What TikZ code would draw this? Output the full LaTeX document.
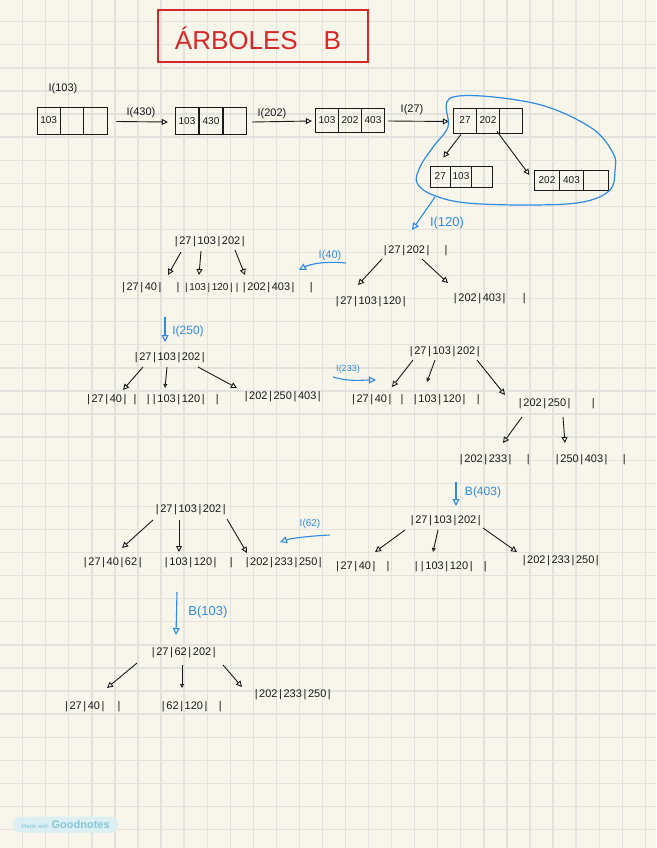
\documentclass[tikz,border=0pt]{standalone}
\usepackage{fontspec}
\setmainfont{Liberation Sans}
\usetikzlibrary{arrows.meta,calc}
\definecolor{paper}{HTML}{F8F6EA}
\definecolor{gridc}{HTML}{E3E2DC}
\definecolor{ink}{HTML}{1A1A1A}
\definecolor{hblue}{HTML}{2F8AE6}
\definecolor{hred}{HTML}{D62828}
\definecolor{pill}{HTML}{DCEFF2}
\definecolor{pilltxt}{HTML}{86C6D8}
\newcommand\vb{\hspace{1.6pt}|\hspace{1.6pt}}
\tikzset{
  keys/.style={font=\fontsize{11}{13}\selectfont, text=ink, inner sep=1pt},
  cell/.style={draw=ink, line width=0.9pt, minimum width=23.3pt, minimum height=27pt,
    inner sep=0pt, font=\fontsize{10}{11}\selectfont, text=ink},
  lbl/.style={font=\fontsize{11}{13}\selectfont, text=ink, inner sep=1pt},
  blbl/.style={font=\fontsize{12}{14}\selectfont, text=hblue, inner sep=1pt},
  arr/.style={draw=ink, line width=0.9pt, -{Triangle[open,length=6pt,width=6pt]}},
  arrs/.style={draw=ink, line width=0.9pt, -{Triangle[open,length=4pt,width=4pt]}},
  barr/.style={draw=hblue, line width=1.1pt, -{Triangle[open,length=7pt,width=7pt]}},
}
\begin{document}
\begin{tikzpicture}[x=1pt,y=-1pt]
\useasboundingbox (0,0) rectangle (656,848);
\fill[paper] (0,0) rectangle (656,848);
\foreach \i in {0,...,27} \draw[gridc, line width=1.3pt] ({22.7+23.06*\i},0) -- ++(0,848);
\foreach \j in {0,...,35} \draw[gridc, line width=1.3pt] (0,{21.7+23.08*\j}) -- ++(656,0);

% title
\node[draw=hred, line width=1.2pt, minimum width=210pt, minimum height=52pt] (titlebox) at (263,36) {};
\node[text=hred, font=\fontsize{26}{28}\selectfont] (title) at (258,38) {ÁRBOLES\hspace{26pt}B};

% row 1 arrays
\node[lbl] (l103) at (63,89) {I(103)};
\node[cell] (b1a) at (48.7,120.5) {103};
\node[cell] (b1b) at (72,120.5) {};
\node[cell] (b1c) at (95.3,120.5) {};

\node[cell] (b2a) at (187,121) {103};
\node[cell] (b2b) at (211,121) {430};
\node[cell] (b2c) at (235,121) {};

\node[cell, minimum height=24pt] (b3a) at (327,120) {103};
\node[cell, minimum height=24pt] (b3b) at (350,120) {202};
\node[cell, minimum height=24pt] (b3c) at (373,120) {403};

\node[cell, minimum height=25pt] (b4a) at (465,120.5) {27};
\node[cell, minimum height=25pt] (b4b) at (488,120.5) {202};
\node[cell, minimum height=25pt] (b4c) at (511,120.5) {};

\node[cell, minimum width=20.7pt, minimum height=21pt] (b5a) at (440.3,176.5) {27};
\node[cell, minimum width=20.7pt, minimum height=21pt] (b5b) at (461,176.5) {103};
\node[cell, minimum width=20.7pt, minimum height=21pt] (b5c) at (481.7,176.5) {};

\node[cell, minimum width=24.3pt, minimum height=20pt] (b6a) at (547,180) {202};
\node[cell, minimum width=24.3pt, minimum height=20pt] (b6b) at (571.5,180) {403};
\node[cell, minimum width=24.3pt, minimum height=20pt] (b6c) at (596,180) {};

\node[lbl] (l430) at (141,113) {I(430)};
\node[lbl] (l202) at (272,114) {I(202)};
\node[lbl] (l27) at (412,110) {I(27)};
\draw[arr] ($(b1c.east)+(9,1)$) -- ($(b2a.west)+(-7,1)$);
\draw[arr] ($(b2c.east)+(5,1)$) -- ($(b3a.west)+(-3,1)$);
\draw[arr] ($(b3c.east)+(3,1)$) -- ($(b4a.west)+(-4,1)$);
\draw[arr] ($(b4a.south)+(-4,1)$) -- ($(b5a.north)+(3,-8)$);
\draw[arr] ($(b4b.south)+(9,-2)$) -- ($(b6a.west)+(-5,-5)$);

% blue lasso
\draw[hblue, line width=1.2pt] plot[smooth cycle, tension=0.6] coordinates {(453,97) (533,103) (590,127) (613,153) (615,170) (610,190) (583,202) (533,205) (467,203) (433,195) (417,183) (420,167) (433,147) (448,127)};
\coordinate (lassoB) at (435,197);

% row 2 right tree
\node[blbl, font=\fontsize{13}{15}\selectfont] (l120) at (447,223) {I(120)};
\node[keys] (r2) at (415,251) {\vb27\vb202\vb\hspace{12pt}\vb};
\node[keys] (c2a) at (370,302) {\vb27\vb103\vb120\vb};
\node[keys] (c2b) at (489,299) {\vb202\vb403\vb\hspace{14pt}\vb};
\draw[barr] (lassoB) -- ($(r2)+(-3,-21)$);
\draw[arr] ($(r2)+(-33,8)$) -- ($(c2a)+(-12,-17)$);
\draw[arr] ($(r2)+(7,8)$) -- ($(c2b)+(-41,-16)$);

% row 2 left tree
\node[keys] (r3) at (209,242) {\vb27\vb103\vb202\vb};
\node[keys] (c3a) at (150,288) {\vb27\vb40\vb\hspace{12pt}\vb};
\node[keys, font=\fontsize{10}{12}\selectfont] (c3b) at (211,288) {\vb103\vb120\vb\vb};
\node[keys] (c3c) at (277,288) {\vb202\vb403\vb\hspace{12pt}\vb};
\draw[arr] ($(r3)+(-28,10)$) -- ($(c3a)+(18,-13)$);
\draw[arr] ($(r3)+(-8,9)$) -- ($(c3b)+(-12,-13)$);
\draw[arr] ($(r3)+(26,8)$) -- ($(c3c)+(-32,-13)$);
\node[blbl, font=\fontsize{11}{13}\selectfont] (l40) at (330,256) {I(40)};
\draw[barr] ($(l40)+(16,7)$) .. controls (325,261) and (310,264) .. ($(c3c)+(22,-18)$);

% row 3 left tree
\node[blbl] (l250) at (188,331) {I(250)};
\node[keys] (r4) at (169,358) {\vb27\vb103\vb202\vb};
\node[keys] (c4a) at (111,400) {\vb27\vb40\vb\hspace{4pt}\vb};
\node[keys] (c4b) at (182,400) {\vb\vb103\vb120\vb\hspace{8pt}\vb};
\node[keys] (c4c) at (282,397) {\vb202\vb250\vb403\vb};
\draw[barr] ($(l250)+(-23,-14)$) -- ($(r4)+(-4,-16)$);
\draw[arr] ($(r4)+(-26,9)$) -- ($(c4a)+(12,-10)$);
\draw[arrs] ($(r4)+(-2,9)$) -- ($(c4b)+(-17,-12)$);
\draw[arr] ($(r4)+(29,9)$) -- ($(c4c)+(-45,-9)$);

% row 3 right tree
\node[blbl, font=\fontsize{9}{11}\selectfont] (l233) at (348,369) {I(233)};
\node[keys] (r5) at (444,352) {\vb27\vb103\vb202\vb};
\node[keys] (c5a) at (377,400) {\vb27\vb40\vb\hspace{6pt}\vb};
\node[keys] (c5b) at (446,400) {\vb103\vb120\vb\hspace{8pt}\vb};
\node[keys] (c5c) at (556,404) {\vb202\vb250\vb\hspace{18pt}\vb};
\node[keys] (g5a) at (494,460) {\vb202\vb233\vb\hspace{12pt}\vb};
\node[keys] (g5b) at (590,460) {\vb250\vb403\vb\hspace{12pt}\vb};
\draw[barr] ($(l233)+(-15,8)$) .. controls (350,382) and (362,380) .. ($(c5a)+(-1,-20)$);
\draw[arr] ($(r5)+(-31,8)$) -- ($(c5a)+(15,-13)$);
\draw[arrs] ($(r5)+(-9,8)$) -- ($(c5b)+(-19,-18)$);
\draw[arr] ($(r5)+(33,8)$) -- ($(c5c)+(-51,-9)$);
\draw[arr] ($(c5c)+(-34,13)$) -- ($(g5a)+(9,-17)$);
\draw[arr] ($(c5c)+(7,13)$) -- ($(g5b)+(-25,-17)$);

% row 4 right tree
\node[blbl] (l403) at (483,492) {B(403)};
\node[keys] (r6) at (445,521) {\vb27\vb103\vb202\vb};
\node[keys] (c6a) at (362,567) {\vb27\vb40\vb\hspace{8pt}\vb};
\node[keys] (c6b) at (450,567) {\vb\vb103\vb120\vb\hspace{8pt}\vb};
\node[keys] (c6c) at (560,561) {\vb202\vb233\vb250\vb};
\draw[barr] ($(l403)+(-27,-10)$) -- ($(r6)+(11,-15)$);
\draw[arr] ($(r6)+(-40,9)$) -- ($(c6a)+(13,-15)$);
\draw[arrs] ($(r6)+(-7,9)$) -- ($(c6b)+(-17,-15)$);
\draw[arr] ($(r6)+(38,7)$) -- ($(c6c)+(-43,-9)$);

% row 4 left tree
\node[blbl, font=\fontsize{10}{12}\selectfont] (l62) at (310,524) {I(62)};
\node[keys] (r7) at (190,510) {\vb27\vb103\vb202\vb};
\node[keys] (c7a) at (112,563) {\vb27\vb40\vb62\vb};
\node[keys] (c7b) at (198,563) {\vb103\vb120\vb\hspace{10pt}\vb};
\node[keys] (c7c) at (283,563) {\vb202\vb233\vb250\vb};
\draw[barr] ($(l62)+(20,11)$) .. controls (310,536) and (292,538) .. ($(c7c)+(-3,-21)$);
\draw[arr] ($(r7)+(-37,10)$) -- ($(c7a)+(10,-15)$);
\draw[arr] ($(r7)+(-11,10)$) -- ($(c7b)+(-19,-11)$);
\draw[arr] ($(r7)+(37,9)$) -- ($(c7c)+(-36,-10)$);

% row 5 tree
\node[blbl, font=\fontsize{13}{15}\selectfont] (l103b) at (208,612) {B(103)};
\node[keys] (r8) at (183,653) {\vb27\vb62\vb202\vb};
\node[keys] (c8a) at (92,707) {\vb27\vb40\vb\hspace{10pt}\vb};
\node[keys] (c8b) at (191,707) {\vb62\vb120\vb\hspace{8pt}\vb};
\node[keys] (c8c) at (292,695) {\vb202\vb233\vb250\vb};
\draw[barr] ($(l103b)+(-31,-20)$) -- ($(r8)+(-7,-18)$);
\draw[arr] ($(r8)+(-46,10)$) -- ($(c8a)+(15,-19)$);
\draw[arrs] ($(r8)+(-1,12)$) -- ($(c8b)+(-9,-19)$);
\draw[arr] ($(r8)+(40,12)$) -- ($(c8c)+(-50,-8)$);

% logo
\node[fill=pill, rounded corners=7pt, minimum width=105pt, minimum height=16pt, inner sep=0pt] (logo) at (65.5,824.5)
  {\textcolor{pilltxt}{\fontsize{6}{7}\selectfont Made with}\hspace{3pt}\textcolor{pilltxt}{\bfseries\fontsize{11}{12}\selectfont Goodnotes}};
\end{tikzpicture}
\end{document}
